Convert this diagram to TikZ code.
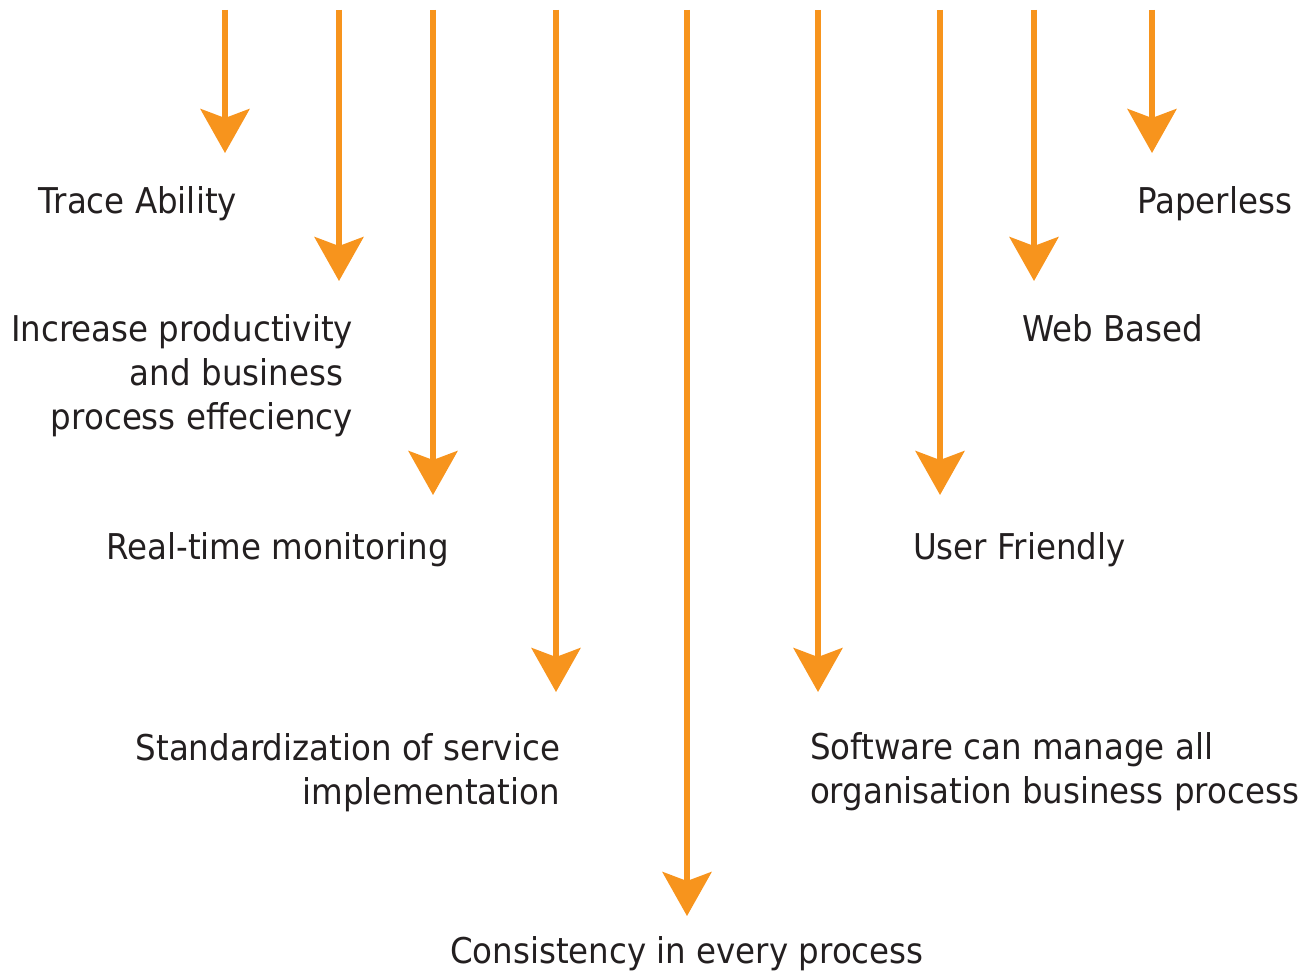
\documentclass[tikz,border=0pt]{standalone}
\usepackage{fontspec}
\setmainfont[FakeStretch=0.915]{DejaVu Sans}
\usetikzlibrary{arrows.meta}
\definecolor{arrcol}{HTML}{F7941D}
\definecolor{txtcol}{HTML}{231F20}
\tikzset{
  arr/.style={draw=arrcol, line width=5.5pt, -{Stealth[length=44pt, width=49pt, inset=9pt]}},
  lbl/.style={text=txtcol, font=\fontsize{35.5}{44}\selectfont, inner sep=0pt, outer sep=0pt},
}
\begin{document}
\begin{tikzpicture}[x=1pt,y=1pt]
\useasboundingbox (0,0) rectangle (1311,-974);
% arrow start and end coordinates
\foreach \n/\x/\y in {1/225/153, 2/339/281, 3/433/495, 4/556/692, 5/687/916, 6/818/692, 7/940/495, 8/1034/281, 9/1152/153}{
  \coordinate (t\n) at (\x,-10);
  \coordinate (h\n) at (\x,-\y);
}
\foreach \n in {1,...,9}{ \draw[arr] (t\n) -- (h\n); }
% labels (multi-line nodes are placed by the baseline of their last line)
\node[lbl, anchor=base east] (trace) at (237,-213) {Trace Ability};
\node[lbl, anchor=base east] (paper) at (1292,-213) {Paperless};
\node[lbl, anchor=base east, align=right] (incr) at (353,-429) {Increase productivity\\and business\rule{10pt}{0pt}\\process effeciency};
\node[lbl, anchor=base west] (web) at (1022,-341) {Web Based};
\node[lbl, anchor=base east] (rtm) at (449,-559) {Real-time monitoring};
\node[lbl, anchor=base west] (user) at (913,-559) {User Friendly};
\node[lbl, anchor=base east, align=right] (std) at (560,-804) {Standardization of service\\implementation};
\node[lbl, anchor=base west, align=left] (soft) at (810,-803) {Software can manage all\\organisation business process};
\node[lbl, anchor=base west] (cons) at (450,-963) {Consistency in every process};
\end{tikzpicture}
\end{document}
